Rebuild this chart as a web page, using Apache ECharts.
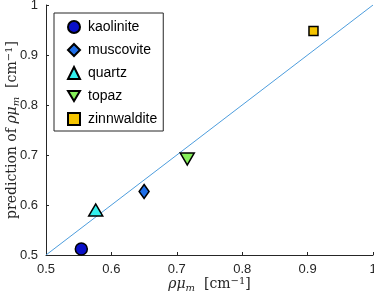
<!DOCTYPE html>
<html><head><meta charset="utf-8">
<script src="https://cdn.jsdelivr.net/npm/echarts@6/dist/echarts.min.js"></script>
<style>html,body{margin:0;padding:0;background:#fff}#c{width:374px;height:297px}</style>
</head><body><div id="c"></div>
<script>
const minerals = ['kaolinite','muscovite','quartz','topaz','zinnwaldite'];
const measured = [0.554, 0.650, 0.576, 0.716, 0.909];
const predicted = [0.512, 0.627, 0.590, 0.692, 0.948];
const tickValues = [0.5, 0.6, 0.7, 0.8, 0.9, 1];
const diagonal = [[0.5, 0.5], [1, 1]];

const colors = ['#0a10c8', '#1e6ee8', '#33f0ee', '#86f05a', '#f5c400'];
const symbols = ['circle', 'diamond', 'triangle', 'path://M0,0 L10,0 L5,8.5 Z', 'rect'];
const sizes = [[12,12],[10,14],[14,12],[14,12],[9,9]];

const chart = echarts.init(document.getElementById('c'));
const serif = '"DejaVu Serif", "Liberation Serif", serif';
const rich = {
  g: {fontFamily: serif, fontStyle: 'italic', fontSize: 14, color: '#262626'},
  s: {fontFamily: serif, fontStyle: 'italic', fontSize: 10, color: '#262626', verticalAlign: 'bottom'},
  t: {fontFamily: serif, fontSize: 14, color: '#262626'},
  p: {fontFamily: serif, fontSize: 10, color: '#262626', verticalAlign: 'top'}
};
const axisCommon = {
  type: 'value', min: 0.5, max: 1, interval: 0.1,
  axisLine: {show: true, lineStyle: {color: '#262626', width: 1}},
  axisTick: {show: true, inside: true, length: 3, lineStyle: {color: '#262626'}},
  splitLine: {show: false},
  axisLabel: {color: '#262626', fontSize: 13, fontFamily: 'Liberation Sans, Arial, sans-serif',
    formatter: v => tickValues.includes(+v.toFixed(2)) ? (+v.toFixed(1)).toString() : ''},
  nameLocation: 'middle',
  nameMoveOverlap: false
};
const series = minerals.map((m, i) => ({
  name: m, type: 'scatter', data: [[measured[i], predicted[i]]],
  symbol: symbols[i], symbolSize: sizes[i],
  itemStyle: {color: colors[i], borderColor: '#000', borderWidth: 1.5, opacity: 1},
  z: 5
}));
series.unshift({
  name: 'fit', type: 'line', data: diagonal, symbol: 'none',
  lineStyle: {color: '#4d9ddd', width: 1}, silent: true, z: 2
});
chart.setOption({
  animation: false,
  grid: {left: 46, right: 1, top: 5, bottom: 42, containLabel: false, outerBoundsMode: 'none'},
  xAxis: Object.assign({}, axisCommon, {
    name: '{g|ρμ}{s|m}{t|  [cm}{p|−1}{t|]}', nameGap: 21,
    nameTextStyle: {rich: rich, lineHeight: 17}
  }),
  yAxis: Object.assign({}, axisCommon, {
    name: '{t|prediction of }{g|ρμ}{s|m}{t|  [cm}{p|−1}{t|]}', nameGap: 25,
    nameTextStyle: {rich: rich, lineHeight: 17}
  }),
  legend: {
    data: minerals, orient: 'vertical', left: 54, top: 13,
    backgroundColor: '#fff', borderColor: '#262626', borderWidth: 1,
    padding: [7, 6, 5, 13], itemGap: 9, itemWidth: 12, itemHeight: 12,
    textStyle: {fontSize: 14, color: '#000', fontFamily: 'Liberation Sans, Arial, sans-serif', padding:[0,0,0,3]}
  },
  series: series
});
</script></body></html>
